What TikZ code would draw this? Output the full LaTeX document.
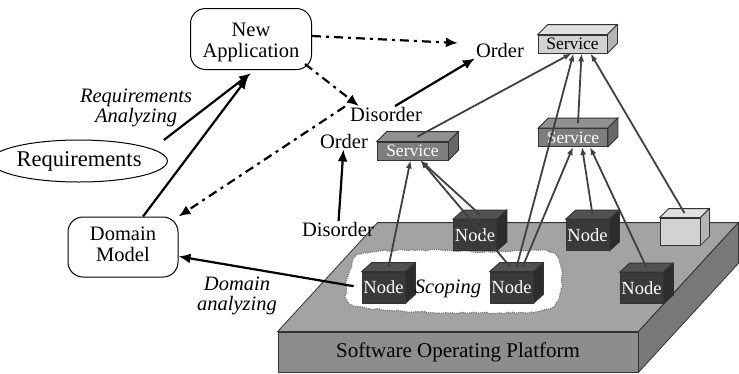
\documentclass[tikz,border=0pt]{standalone}
\usepackage{fontspec}
\setmainfont{Liberation Serif}
\usepackage{xcolor}
\usepackage{tikz}
\usetikzlibrary{shapes.geometric, arrows.meta, calc, positioning, decorations.pathmorphing}

\definecolor{platTop}{HTML}{A3A3A3}
\definecolor{platFront}{HTML}{8D8D8D}
\definecolor{platSide}{HTML}{787878}
\definecolor{nodeFront}{HTML}{3A3A3A}
\definecolor{nodeTop}{HTML}{525252}
\definecolor{nodeSide}{HTML}{2C2C2C}
\definecolor{servFront}{HTML}{7E7E7E}
\definecolor{servTop}{HTML}{919191}
\definecolor{servSide}{HTML}{686868}
\definecolor{lightFront}{HTML}{D2D2D2}
\definecolor{lightTop}{HTML}{E0E0E0}
\definecolor{lightSide}{HTML}{B4B4B4}

% faces du dessus et de cote d'une boite (nom, dessus, cote, dx, dy)
\newcommand{\boxfaces}[5]{%
  \filldraw[fill=#2, draw=black!80, line width=0.8bp] (#1.north west) -- ++(#4,-#5) -- ($(#1.north east)+(#4,-#5)$) -- (#1.north east) -- cycle;
  \filldraw[fill=#3, draw=black!80, line width=0.8bp] (#1.north east) -- ++(#4,-#5) -- ($(#1.south east)+(#4,-#5)$) -- (#1.south east) -- cycle;
  \coordinate (#1 top) at ($(#1.north)+(#4/2,-#5/2)$);
}

\begin{document}
\begin{tikzpicture}[x=1bp, y=-1bp, font=\fontsize{20.5bp}{21bp}\selectfont]
% Définition des styles
    \tikzstyle{appbox} = [rectangle, draw, line width=1bp, rounded corners=15bp, minimum width=121bp, minimum height=61bp, inner sep=0pt]
    \tikzstyle{reqbox} = [ellipse, draw, line width=1bp, minimum width=142bp, minimum height=42bp, inner sep=0pt, font=\fontsize{22.5bp}{23bp}\selectfont]
    \tikzstyle{word} = [inner sep=1bp]
    \tikzstyle{tag} = [font=\fontsize{20.5bp}{20.5bp}\selectfont\itshape, align=center, inner sep=0pt]
    \tikzstyle{servbox} = [rectangle, draw=black!80, line width=0.8bp, minimum width=69bp, minimum height=18bp, inner sep=0pt, font=\fontsize{17.5bp}{18bp}\selectfont]
    \tikzstyle{cube} = [rectangle, draw=black!80, line width=0.8bp, fill=nodeFront, text=white, minimum width=43bp, minimum height=31bp, inner sep=0pt, font=\fontsize{18.5bp}{18bp}\selectfont]
    \tikzstyle{line} = [draw, line width=2.2bp, -{Latex[length=12bp, width=10bp]}]
    \tikzstyle{dashline} = [line, dash pattern=on 9bp off 5bp on 3bp off 5bp]
    \tikzstyle{feed} = [draw, line width=1.8bp, color=black!75, -{Latex[length=8bp, width=6bp]}]

    \useasboundingbox (0,0) rectangle (739,373);

    % La plateforme
    \node [rectangle, draw=black!80, line width=0.8bp, fill=platFront, minimum width=360bp, minimum height=40bp, font=\fontsize{21bp}{21bp}\selectfont] (platform) at (458,352) {Software Operating Platform};
    \boxfaces{platform}{platTop}{platSide}{100}{109}

    % Zone de scoping
    \filldraw [fill=white, draw=black!55, densely dotted, line width=1.2bp, decorate, decoration={random steps, segment length=3bp, amplitude=0.8bp}] plot [smooth cycle, tension=0.6] coordinates {(350,270) (361,254) (420,250) (490,252) (548,251) (561,267) (559,298) (540,311) (470,313) (400,311) (352,305) (346,288)};

    % Les noeuds
    \node [cube] (nodeA) at (383.5,287.5) {Node}; \boxfaces{nodeA}{nodeTop}{nodeSide}{10}{9}
    \node [cube] (nodeB) at (511.5,287.5) {Node}; \boxfaces{nodeB}{nodeTop}{nodeSide}{10}{9}
    \node [cube] (nodeC) at (475,235) {Node}; \boxfaces{nodeC}{nodeTop}{nodeSide}{10}{9}
    \node [cube] (nodeD) at (587.5,235) {Node}; \boxfaces{nodeD}{nodeTop}{nodeSide}{10}{9}
    \node [cube] (nodeE) at (641.5,288) {Node}; \boxfaces{nodeE}{nodeTop}{nodeSide}{10}{9}
    \node [cube, fill=lightFront, minimum width=40bp, minimum height=27bp] (spare) at (680,231.5) {}; \boxfaces{spare}{lightTop}{lightSide}{9}{9}

    % Les services
    \node [servbox, fill=lightFront] (servT) at (572.5,44) {Service}; \boxfaces{servT}{lightTop}{lightSide}{10}{10}
    \node [servbox, fill=servFront, text=white] (servM) at (573,137.5) {Service}; \boxfaces{servM}{servTop}{servSide}{10}{10}
    \node [servbox, fill=servFront, text=white, minimum width=71bp] (servL) at (412.5,151) {Service}; \boxfaces{servL}{servTop}{servSide}{10}{10}

    % Composition
    \path [feed] (nodeA top) -- ([xshift=-2bp]servL.south);
    \path [feed] (nodeC top) -- ([xshift=8bp]servL.south);
    \path [feed] ([xshift=-6bp]nodeB top) -- ([xshift=8bp]servL.south);
    \path [feed] (servL top) -- ([xshift=-1bp]servT.south);
    \path [feed] (nodeB top) -- ([xshift=1bp]servT.south);
    \path [feed] (servM top) -- ([xshift=9bp]servT.south);
    \path [feed] (spare top) -- ([xshift=18bp]servT.south);
    \path [feed] ([xshift=6bp]nodeB top) -- (servM.south);
    \path [feed] (nodeD top) -- ([xshift=9bp]servM.south);
    \path [feed] (nodeE top) -- ([xshift=17bp]servM.south);

    % Application, exigences et modele
    \node [appbox] (app) at (251,39) {\raisebox{-4bp}[\height][\depth]{\begin{tabular}{@{}c@{}}New\\Application\end{tabular}}};
    \node [reqbox] (req) at (79,161) {Requirements};
    \node [appbox, minimum width=110bp, minimum height=60bp] (domain) at (123,247) {\begin{tabular}{@{}c@{}}Domain\\Model\end{tabular}};
    \node [tag] (reqtag) at (136,108) {Requirements\\Analyzing};
    \node [tag] (domtag) at (237,296) {Domain\\analyzing};
    \node [tag] (scope) at (448,289) {Scoping};
    \node [word] (order1) at (500,50) {Order};
    \node [word] (dis1) at (386,114.5) {Disorder};
    \node [word] (order2) at (344,141) {Order};
    \node [word] (dis2) at (338,229.5) {Disorder};

    % Connexions
    \path [line] ([xshift=-4bp,yshift=21bp]req.east) -- ([yshift=-3bp]app.south);
    \path [line] ([xshift=20bp]domain.north) -- ([xshift=-3bp,yshift=-7bp]app.south);
    \path [line, shorten <=8bp] (nodeA.west) -- (domain);
    \path [dashline] ([yshift=3bp]app.east) -- ([xshift=-17bp,yshift=7bp]order1.west);
    \path [dashline] ([xshift=-7bp,yshift=6bp]app.south east) -- ([xshift=10bp]dis1.north west);
    \path [dashline] ([xshift=-4bp,yshift=8bp]dis1.west) -- (domain.north east);
    \path [line] ([xshift=9bp]dis1.north) -- (order1.south west);
    \path [line] (dis2) -- (order2);
\end{tikzpicture}
\end{document}
